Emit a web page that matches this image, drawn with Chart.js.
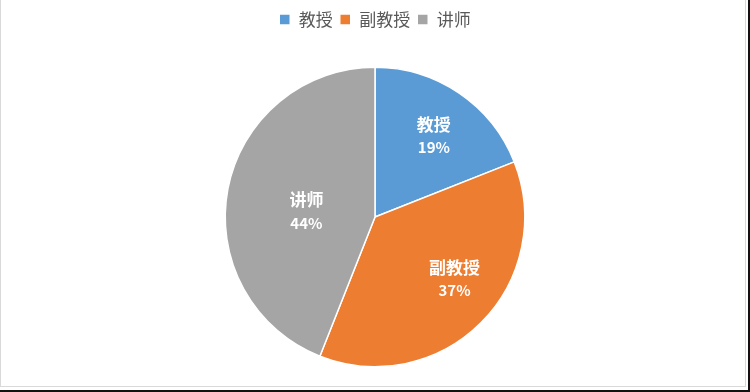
<!DOCTYPE html>
<html>
<head>
<meta charset="utf-8">
<script src="https://cdn.jsdelivr.net/npm/chart.js@4/dist/chart.umd.min.js"></script>
<style>
  html, body { margin: 0; padding: 0; background: #fff; }
  #wrap { position: relative; width: 750px; height: 392px; overflow: hidden; }
  #frame { position: absolute; left: 0; top: -1px; width: 746px; height: 388px; box-sizing: border-box; border: 1px solid #d9d9d9; }
  #rline { position: absolute; left: 748px; top: 0; width: 2px; height: 392px; background: #111; }
  #bline { position: absolute; left: 0; top: 390px; width: 750px; height: 2px; background: #111; }
  canvas { position: absolute; left: 0; top: 0; }
</style>
</head>
<body>
<div id="wrap">
  <div id="frame"></div>
  <canvas id="c" width="750" height="392"></canvas>
  <div id="rline"></div>
  <div id="bline"></div>
</div>
<script>
const categories = ["教授", "副教授", "讲师"];
const values = [19, 37, 44];
const colors = ["#5B9BD5", "#ED7D31", "#A5A5A5"];

const FONT = "'Noto Sans CJK SC', 'Noto Sans', sans-serif";

const legendGap = {
  id: 'legendGap',
  beforeInit(chart) {
    const origFit = chart.legend.fit;
    chart.legend.fit = function () {
      origFit.call(this);
      this.height += 28.5;
    };
  }
};

const labelPlugin = {
  id: 'sliceLabels',
  afterDatasetsDraw(chart, args, opts) {
    const ctx = chart.ctx;
    const meta = chart.getDatasetMeta(0);
    const data = chart.data.datasets[0].data;
    const total = data.reduce((a, b) => a + b, 0);
    meta.data.forEach((arc, i) => {
      const p = arc.getProps(['x', 'y', 'startAngle', 'endAngle', 'outerRadius'], true);
      const mid = (p.startAngle + p.endAngle) / 2 + (opts.angleShift[i] || 0);
      const r = p.outerRadius * opts.radius[i];
      const cx = p.x + Math.cos(mid) * r;
      const cy = p.y + Math.sin(mid) * r;
      ctx.save();
      ctx.fillStyle = '#ffffff';
      ctx.textAlign = 'center';
      ctx.textBaseline = 'middle';
      ctx.font = "bold 17px " + FONT;
      ctx.fillText(chart.data.labels[i], cx, cy - 11);
      ctx.font = "bold 15px " + FONT;
      ctx.fillText(Math.round(data[i] / total * 100) + '%', cx, cy + 12);
      ctx.restore();
    });
  }
};

new Chart(document.getElementById('c'), {
  type: 'pie',
  data: {
    labels: categories,
    datasets: [{
      data: values,
      backgroundColor: colors,
      borderColor: '#ffffff',
      borderWidth: 1.5
    }]
  },
  options: {
    responsive: false,
    animation: false,
    layout: { padding: { top: 4, bottom: 24.5 } },
    plugins: {
      tooltip: { enabled: false },
      legend: {
        position: 'top',
        labels: {
          boxWidth: 11,
          boxHeight: 11,
          padding: 7,
          color: '#595959',
          font: { family: FONT, size: 17 }
        }
      },
      sliceLabels: {
        radius: [0.67, 0.67, 0.46],
        angleShift: [0.03, -0.13, -0.1]
      }
    }
  },
  plugins: [legendGap, labelPlugin]
});
</script>
</body>
</html>
